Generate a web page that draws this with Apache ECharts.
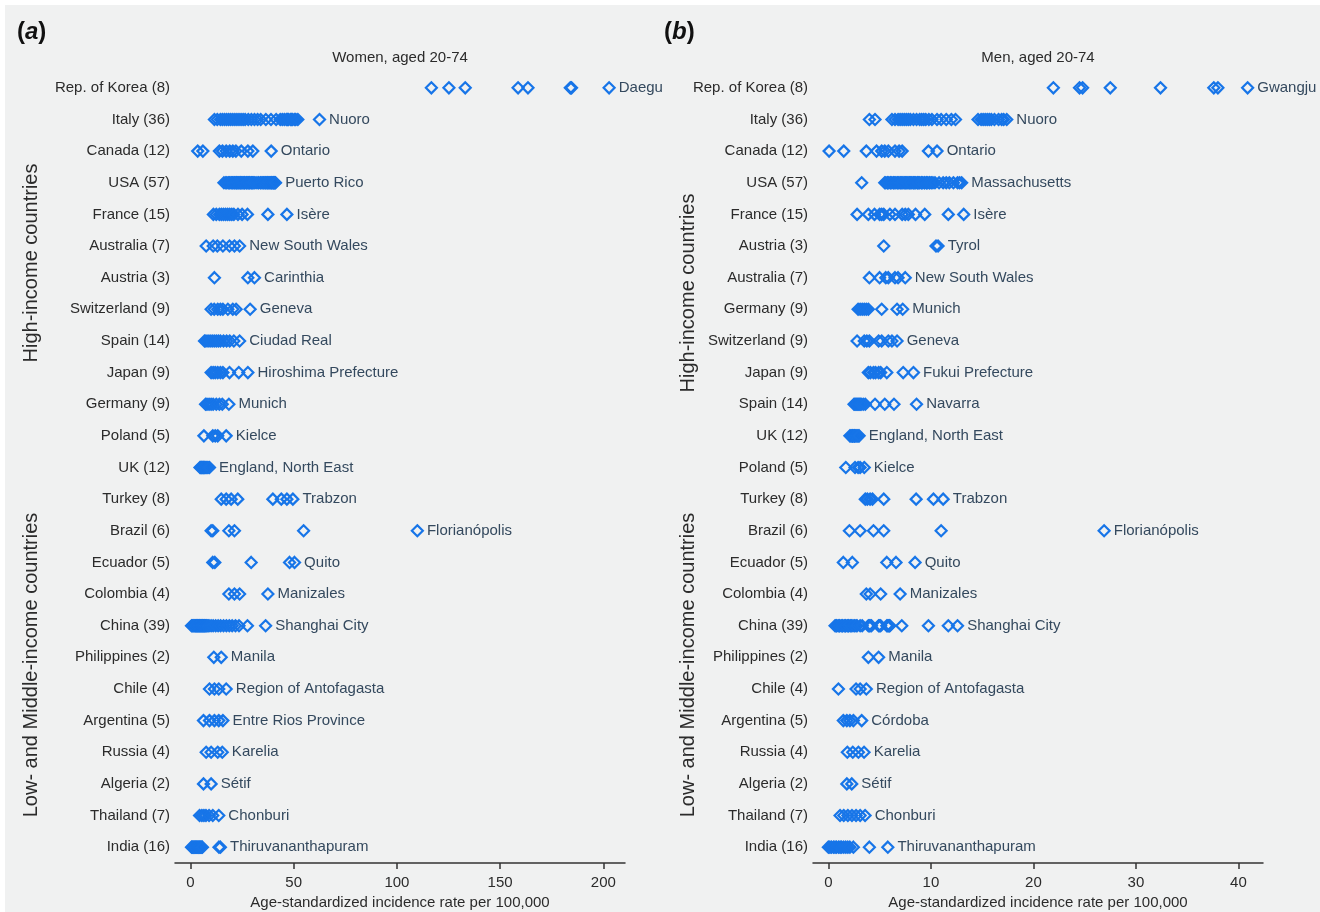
<!DOCTYPE html>
<html>
<head>
    <meta charset="utf-8">
    <title>Incidence rate by registry</title>
    <script src="https://cdn.jsdelivr.net/npm/echarts@6/dist/echarts.min.js"></script>
    <style>
        html, body { margin: 0; padding: 0; background: #fff; }
        #main { width: 1320px; height: 912px; }
    </style>
</head>
<body>
    <div id="main"></div>
    <script type="text/javascript">
        // rows, top to bottom
        var womenCountries = ['Rep. of Korea (8)', 'Italy (36)', 'Canada (12)', 'USA (57)', 'France (15)', 'Australia (7)',
            'Austria (3)', 'Switzerland (9)', 'Spain (14)', 'Japan (9)', 'Germany (9)', 'Poland (5)', 'UK (12)',
            'Turkey (8)', 'Brazil (6)', 'Ecuador (5)', 'Colombia (4)', 'China (39)', 'Philippines (2)', 'Chile (4)',
            'Argentina (5)', 'Russia (4)', 'Algeria (2)', 'Thailand (7)', 'India (16)'];
        var womenTop = ['Daegu', 'Nuoro', 'Ontario', 'Puerto Rico', 'Isère', 'New South Wales', 'Carinthia', 'Geneva',
            'Ciudad Real', 'Hiroshima Prefecture', 'Munich', 'Kielce', 'England, North East', 'Trabzon', 'Florianópolis',
            'Quito', 'Manizales', 'Shanghai City', 'Manila', 'Region of Antofagasta', 'Entre Rios Province', 'Karelia',
            'Sétif', 'Chonburi', 'Thiruvananthapuram'];
        var womenRates = [
            [116.7, 125.2, 133.1, 158.7, 163.5, 184.0, 184.6, 202.8],
            [11.6, 13, 14.5, 15.5, 16.5, 17.5, 18.5, 19.5, 20.5, 21.5, 22.5, 23.5, 24.5, 25.5, 26.5, 28, 29.5, 31,
                32.5, 34, 36.5, 39, 41.5, 43.5, 44.5, 45.5, 46.5, 47, 47.5, 48.5, 49, 49.5, 50.5, 51, 52, 62.5],
            [3.5, 6, 14, 15.5, 17.3, 19, 20.5, 22, 24.6, 27.8, 30.2, 39.1],
            [16.2, 17.1, 17.6, 18.3, 18.8, 19.2, 19.9, 20.3, 20.7, 21.3, 21.6, 22.1, 22.4, 22.7, 23.3, 23.6, 24.1,
                24.4, 24.7, 25.3, 25.6, 26.1, 26.3, 26.9, 27.2, 27.5, 28.1, 28.4, 28.7, 29.3, 29.6, 30.1, 30.4, 31.1,
                31.8, 32.7, 33.1, 33.9, 34.2, 34.8, 35.4, 35.7, 36.3, 36.6, 37.1, 37.4, 37.9, 38.2, 38.7, 39.1, 39.3,
                39.8, 40.1, 40.3, 40.7, 40.9, 41.2],
            [11.1, 12.5, 14, 15, 16, 17, 18, 19, 20, 21, 23, 25, 27.6, 37.5, 46.7],
            [7.6, 11, 13, 15.7, 18.9, 21.3, 23.8],
            [11.6, 27.8, 31.0],
            [10, 11.5, 13.2, 14.5, 15.7, 18.1, 20.5, 22.1, 28.9],
            [6.8, 7.5, 8.5, 9.5, 10.5, 11.5, 12.5, 13.5, 14.5, 16, 17.5, 19, 21, 23.8],
            [10, 11, 12, 13.2, 14.5, 15.7, 18.9, 23.4, 27.8],
            [7.3, 8, 9, 10, 11, 12.5, 14, 15.4, 18.6],
            [6.5, 10.8, 12, 13.2, 17.3],
            [4.6, 5, 5.3, 5.6, 6, 6.3, 6.6, 7, 7.5, 8, 8.5, 9.2],
            [14.9, 17.3, 19.7, 22.9, 39.9, 44, 46.7, 49.6],
            [10, 10.8, 18.6, 21.3, 54.8, 109.9],
            [10.8, 11.8, 29.4, 48, 50.4],
            [18.6, 21.3, 23.8, 37.5],
            [0.5, 0.9, 1.3, 1.7, 2.1, 2.4, 2.7, 3, 3.3, 3.6, 3.9, 4.2, 4.5, 4.8, 5.1, 5.4, 5.7, 6, 6.3, 6.6,
                6.9, 7.2, 7.6, 8, 8.5, 9, 10, 11, 12.2, 13.4, 14.6, 16, 17.4, 18.8, 20.2, 21.8, 23.5, 27.6, 36.4],
            [11.3, 14.9],
            [9.2, 11.6, 13.7, 17.3],
            [6.3, 9.2, 11.6, 13.7, 15.7],
            [7.6, 10, 13.2, 15.4],
            [6.3, 10],
            [4.4, 5.5, 6.5, 7.5, 9, 10.8, 13.7],
            [0.5, 0.9, 1.3, 1.7, 2.1, 2.5, 2.9, 3.3, 3.7, 4.1, 4.5, 4.9, 5.3, 5.8, 13.8, 14.5]
        ];

        var menCountries = ['Rep. of Korea (8)', 'Italy (36)', 'Canada (12)', 'USA (57)', 'France (15)', 'Austria (3)',
            'Australia (7)', 'Germany (9)', 'Switzerland (9)', 'Japan (9)', 'Spain (14)', 'UK (12)', 'Poland (5)',
            'Turkey (8)', 'Brazil (6)', 'Ecuador (5)', 'Colombia (4)', 'China (39)', 'Philippines (2)', 'Chile (4)',
            'Argentina (5)', 'Russia (4)', 'Algeria (2)', 'Thailand (7)', 'India (16)'];
        var menTop = ['Gwangju', 'Nuoro', 'Ontario', 'Massachusetts', 'Isère', 'Tyrol', 'New South Wales', 'Munich',
            'Geneva', 'Fukui Prefecture', 'Navarra', 'England, North East', 'Kielce', 'Trabzon', 'Florianópolis',
            'Quito', 'Manizales', 'Shanghai City', 'Manila', 'Region of Antofagasta', 'Córdoba', 'Karelia', 'Sétif',
            'Chonburi', 'Thiruvananthapuram'];
        var menRates = [
            [21.95, 24.5, 24.8, 27.5, 32.4, 37.6, 38.0, 40.9],
            [4.0, 4.55, 6.2, 6.5, 6.8, 7.0, 7.2, 7.4, 7.6, 7.8, 8.0, 8.3, 8.6, 8.9, 9.1, 9.3, 9.5, 9.8, 10.1, 10.6,
                11.0, 11.5, 12.0, 12.4, 14.6, 14.9, 15.1, 15.3, 15.5, 15.7, 15.9, 16.2, 16.6, 16.9, 17.1, 17.4],
            [0.07, 1.5, 3.7, 4.7, 5.2, 5.5, 5.85, 6.5, 6.9, 7.2, 9.76, 10.6],
            [3.25, 5.5, 5.6, 5.75, 5.8, 5.9, 6.05, 6.1, 6.2, 6.35, 6.4, 6.5, 6.6, 6.75, 6.8, 6.9, 7.05, 7.1, 7.2,
                7.3, 7.45, 7.5, 7.6, 7.7, 7.85, 7.9, 8.0, 8.1, 8.25, 8.3, 8.4, 8.5, 8.65, 8.7, 8.8, 8.9, 9.05, 9.1,
                9.2, 9.35, 9.4, 9.55, 9.6, 9.7, 9.85, 9.9, 10.05, 10.2, 10.4, 10.8, 11.2, 11.5, 11.8, 12.2, 12.6, 12.8, 13.0],
            [2.8, 3.9, 4.5, 5.0, 5.2, 5.4, 6.0, 6.5, 7.2, 7.5, 7.8, 8.5, 9.4, 11.7, 13.2],
            [5.4, 10.5, 10.7],
            [4.0, 5.0, 5.6, 5.85, 6.5, 6.8, 7.5],
            [2.9, 3.1, 3.3, 3.5, 3.7, 3.9, 5.2, 6.7, 7.25],
            [2.8, 3.5, 3.75, 4.0, 4.9, 5.2, 5.85, 6.2, 6.7],
            [3.9, 4.1, 4.4, 4.6, 4.9, 5.1, 5.7, 7.3, 8.3],
            [2.5, 2.6, 2.7, 2.8, 2.9, 3.0, 3.1, 3.2, 3.4, 3.6, 4.55, 5.5, 6.4, 8.6],
            [2.1, 2.2, 2.3, 2.35, 2.4, 2.5, 2.55, 2.6, 2.7, 2.8, 2.9, 3.0],
            [1.7, 2.6, 2.9, 3.1, 3.5],
            [3.6, 3.8, 4.07, 4.3, 5.4, 8.56, 10.25, 11.2],
            [2.05, 3.1, 4.4, 5.4, 11.0, 26.9],
            [1.46, 2.34, 5.7, 6.6, 8.46],
            [3.7, 4.07, 5.1, 7.0],
            [0.65, 0.75, 0.8, 0.95, 1.05, 1.1, 1.25, 1.35, 1.4, 1.55, 1.65, 1.7, 1.85, 1.95, 2.0, 2.15, 2.25, 2.4,
                2.55, 2.7, 2.8, 3.1, 3.3, 3.9, 4.0, 4.07, 4.2, 4.9, 5.0, 5.1, 5.7, 5.8, 5.85, 5.95, 6.0, 7.16, 9.76, 11.7, 12.6],
            [3.9, 4.9],
            [0.98, 2.7, 3.1, 3.7],
            [1.46, 1.8, 2.1, 2.44, 3.25],
            [1.85, 2.38, 2.93, 3.48],
            [1.8, 2.28],
            [1.14, 1.5, 1.9, 2.3, 2.7, 3.1, 3.58],
            [0.0, 0.15, 0.3, 0.5, 0.65, 0.8, 1.0, 1.15, 1.3, 1.5, 1.7, 1.9, 2.1, 2.44, 4.0, 5.8]
        ];

        var womenTicks = [0, 50, 100, 150, 200];
        var menTicks = [0, 10, 20, 30, 40];

        var blue = '#1775e8';
        var font = '"Liberation Sans", Arial, sans-serif';

        // one point per registry; the highest one carries the registry name
        function buildPoints(rates, names) {
            var pts = [];
            rates.forEach(function (row, i) {
                var top = Math.max.apply(null, row);
                var done = false;
                row.forEach(function (v) {
                    if (v === top && !done) {
                        done = true;
                        pts.push({
                            value: [v, i],
                            label: { show: true, formatter: names[i] }
                        });
                    } else {
                        pts.push([v, i]);
                    }
                });
            });
            return pts;
        }

        function xAxisFor(grid, min, max, ticks) {
            return {
                gridIndex: grid,
                type: 'value',
                min: min,
                max: max,
                name: 'Age-standardized incidence rate per 100,000',
                nameLocation: 'middle',
                nameGap: 29,
                nameTextStyle: { fontFamily: font, fontSize: 15, color: '#2b2b2b' },
                splitLine: { show: false },
                axisLine: { show: true, lineStyle: { color: '#333', width: 1.5 } },
                axisTick: { show: true, length: 6, customValues: ticks, lineStyle: { color: '#333', width: 1.5 } },
                axisLabel: { customValues: ticks, margin: 12, fontFamily: font, fontSize: 15, color: '#2b2b2b' }
            };
        }

        function yAxisFor(grid, cats) {
            return {
                gridIndex: grid,
                type: 'category',
                data: cats,
                inverse: true,
                axisLine: { show: false },
                axisTick: { show: false },
                splitLine: { show: false },
                axisLabel: { margin: 5, fontFamily: font, fontSize: 15, color: '#2b2b2b' }
            };
        }

        function seriesFor(idx, pts) {
            return {
                type: 'scatter',
                xAxisIndex: idx,
                yAxisIndex: idx,
                symbol: 'diamond',
                symbolSize: [11, 11],
                data: pts,
                itemStyle: { color: 'rgba(0,0,0,0)', borderColor: blue, borderWidth: 2.2, opacity: 1 },
                label: {
                    position: 'right',
                    distance: 3,
                    fontFamily: font,
                    fontSize: 15,
                    color: '#34495e'
                },
                emphasis: { disabled: true }
            };
        }

        var myChart = echarts.init(document.getElementById('main'), null, { renderer: 'canvas' });

        var option = {
            animation: false,
            backgroundColor: '#fff',
            grid: [
                { left: 175, top: 72, width: 450, height: 791, outerBoundsMode: 'none', containLabel: false },
                { left: 813, top: 72, width: 450, height: 791, outerBoundsMode: 'none', containLabel: false }
            ],
            xAxis: [
                xAxisFor(0, -7.5, 210.5, womenTicks),
                xAxisFor(1, -1.5, 42.4, menTicks)
            ],
            yAxis: [
                yAxisFor(0, womenCountries),
                yAxisFor(1, menCountries)
            ],
            series: [
                seriesFor(0, buildPoints(womenRates, womenTop)),
                seriesFor(1, buildPoints(menRates, menTop))
            ],
            graphic: [
                { type: 'rect', z: -10, silent: true, shape: { x: 5, y: 5, width: 1315, height: 907 }, style: { fill: '#f0f1f1' } },
                { type: 'text', x: 17, y: 32, style: {
                    text: '{p|(}{i|a}{p|)}', verticalAlign: 'middle',
                    rich: {
                        p: { fontFamily: font, fontSize: 24, fontWeight: 'bold', fill: '#111' },
                        i: { fontFamily: font, fontSize: 24, fontWeight: 'bold', fontStyle: 'italic', fill: '#111' }
                    } } },
                { type: 'text', x: 664, y: 32, style: {
                    text: '{p|(}{i|b}{p|)}', verticalAlign: 'middle',
                    rich: {
                        p: { fontFamily: font, fontSize: 24, fontWeight: 'bold', fill: '#111' },
                        i: { fontFamily: font, fontSize: 24, fontWeight: 'bold', fontStyle: 'italic', fill: '#111' }
                    } } },
                { type: 'text', x: 400, y: 58, style: { text: 'Women, aged 20-74', textAlign: 'center', textVerticalAlign: 'middle', fontFamily: font, fontSize: 15, fill: '#2b2b2b' } },
                { type: 'text', x: 1038, y: 58, style: { text: 'Men, aged 20-74', textAlign: 'center', textVerticalAlign: 'middle', fontFamily: font, fontSize: 15, fill: '#2b2b2b' } },
                { type: 'text', x: 31, y: 263, rotation: Math.PI / 2, style: { text: 'High-income countries', textAlign: 'center', textVerticalAlign: 'middle', fontFamily: font, fontSize: 20, fill: '#2b2b2b' } },
                { type: 'text', x: 31, y: 665, rotation: Math.PI / 2, style: { text: 'Low- and Middle-income countries', textAlign: 'center', textVerticalAlign: 'middle', fontFamily: font, fontSize: 20, fill: '#2b2b2b' } },
                { type: 'text', x: 688, y: 293, rotation: Math.PI / 2, style: { text: 'High-income countries', textAlign: 'center', textVerticalAlign: 'middle', fontFamily: font, fontSize: 20, fill: '#2b2b2b' } },
                { type: 'text', x: 688, y: 665, rotation: Math.PI / 2, style: { text: 'Low- and Middle-income countries', textAlign: 'center', textVerticalAlign: 'middle', fontFamily: font, fontSize: 20, fill: '#2b2b2b' } }
            ]
        };

        myChart.setOption(option);
    </script>
</body>
</html>
